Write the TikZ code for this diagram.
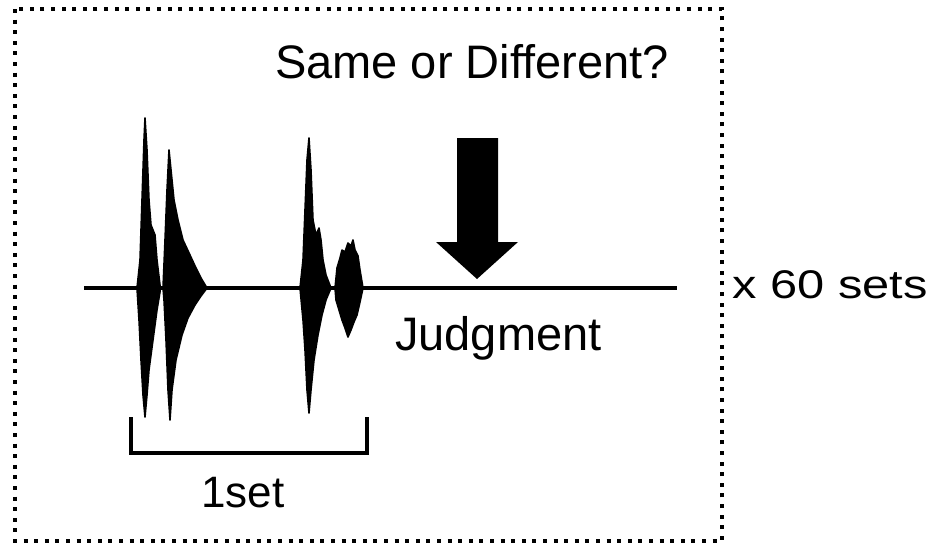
\documentclass[tikz,border=0pt]{standalone}
\usepackage{fontspec}
\setmainfont{Liberation Sans}
\begin{document}
\begin{tikzpicture}[x=1pt,y=-1pt,
  lbl/.style={inner sep=0pt,anchor=base west,font=\fontsize{47}{56}\selectfont},
  wave/.style={fill=black,draw=black,line width=1.6pt,line join=round},
  frame/.style={line width=4pt,dash pattern=on 4pt off 6.6pt},
  axis/.style={line width=4pt},
  brace/.style={line width=4pt,line join=miter}]
\useasboundingbox (0,0) rectangle (939,546);
\draw[frame] (15,9) rectangle (722,541);
% labels
\node[lbl] (q) at (275,78) {Same or Different?};
\node[lbl,font=\fontsize{40}{48}\selectfont,xscale=1.22] (sets) at (732,298) {x 60 sets};
\node[lbl] (judg) at (395,350) {Judgment};
\node[lbl,font=\fontsize{44}{52}\selectfont] (oneset) at (201,507) {1set};
% time axis
\coordinate (axL) at (84,288);
\coordinate (axR) at (677,288);
\draw[axis] (axL) -- (axR);
% bursts
\fill[wave] (137,288) -- (140,260) -- (142,200) -- (144,140) -- (145,118) -- (147,150) -- (149,200) -- (151,225) -- (155,235) -- (157,260) -- (160,285) -- (160,292) -- (157,310) -- (153,340) -- (149,370) -- (147,395) -- (145,417) -- (143,395) -- (141,360) -- (139,320) -- cycle;
\fill[wave] (163,288) -- (165,240) -- (167,190) -- (169,150) -- (171,170) -- (174,200) -- (178,220) -- (183,240) -- (190,255) -- (196,268) -- (201,278) -- (207,288) -- (201,296) -- (195,305) -- (188,318) -- (182,335) -- (176,360) -- (172,390) -- (170,420) -- (168,390) -- (166,340) -- (164,300) -- cycle;
\fill[wave] (300,288) -- (303,260) -- (305,210) -- (307,160) -- (309,138) -- (311,170) -- (313,220) -- (316,235) -- (319,228) -- (321,240) -- (323,260) -- (326,275) -- (331,288) -- (326,300) -- (322,315) -- (318,335) -- (314,360) -- (311,390) -- (309,413) -- (307,390) -- (305,350) -- (303,320) -- cycle;
\fill[wave] (335,288) -- (337,268) -- (340,258) -- (342,250) -- (345,252) -- (348,243) -- (351,246) -- (353,240) -- (355,250) -- (358,256) -- (360,270) -- (363,288) -- (360,302) -- (357,315) -- (354,322) -- (351,330) -- (348,337) -- (345,328) -- (342,320) -- (339,310) -- (336,300) -- cycle;
% judgment arrow
\fill (457,138) -- (498,138) -- (498,242) -- (518,242) -- (477,279) -- (436,242) -- (457,242) -- cycle;
% bracket
\coordinate (bTL) at (131,417);
\coordinate (bTR) at (367,417);
\draw[brace] (bTL) -- (131,453) -- (367,453) -- (bTR);
\end{tikzpicture}
\end{document}
